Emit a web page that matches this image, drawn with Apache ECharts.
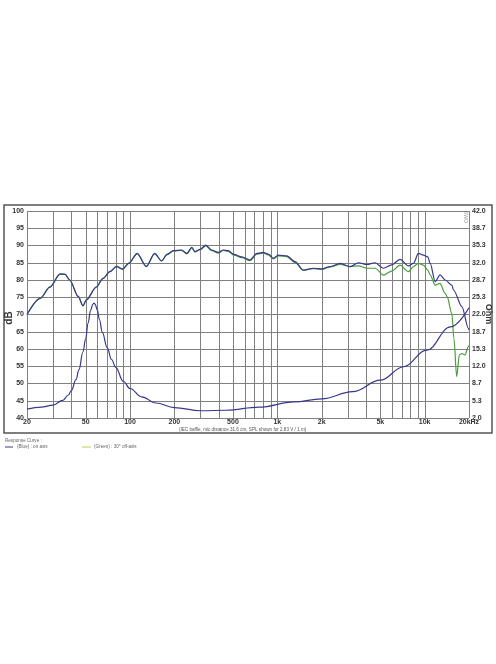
<!DOCTYPE html>
<html><head><meta charset="utf-8">
<script src="https://cdn.jsdelivr.net/npm/echarts@6/dist/echarts.min.js"></script>
<style>html,body{margin:0;padding:0;background:#fff}#c{width:496px;height:664px}</style>
</head><body><div id="c"></div>
<script>
// Frequency grid lines and tick labels
const freqGrid = [20,30,40,50,60,70,80,90,100,200,300,400,500,600,700,800,900,1000,2000,3000,4000,5000,6000,7000,8000,9000,10000,20000];
const freqTicks = [20,50,100,200,500,1000,2000,5000,10000,20000];
const freqTickLabels = ['20','50','100','200','500','1k','2k','5k','10k','20kHz'];

// On-axis SPL (blue), dB
const onFreq = [20,24.6,28.6,33.5,36.2,39,44.5,48,50.6,59,65.5,73.2,81,89,98,112,129,147,164,178,197,224,243,263,276,299,327,359,398,430,465,508,574,653,725,804,869,940,1016,1159,1318,1502,1757,2000,2280,2670,3120,3550,4050,4610,5250,5980,6810,7750,8390,9070,9800,10500,10900,11800,12700,13800,15300,15700,17900,19800,20000];
const onDb   = [70.0,74.7,77.9,81.7,81.7,80.0,75.2,72.5,74.2,77.9,80.4,82.4,83.9,83.1,84.8,87.7,83.9,87.7,85.5,87.4,88.5,88.7,87.7,89.5,88.2,88.9,90.1,88.7,88.0,88.7,88.5,87.4,86.7,85.8,87.7,88.0,87.5,86.3,87.2,87.0,85.3,82.9,83.4,83.2,83.9,84.8,83.9,85.0,84.5,85.0,83.4,84.4,86.0,84.1,84.8,87.7,87.2,86.7,84.8,79.5,81.5,80.0,78.5,77.1,72.3,66.0,65.5];

// 30 deg off-axis SPL (green), dB
const offFreq = [20,24.6,28.6,33.5,36.2,39,44.5,48,50.6,59,65.5,73.2,81,89,98,112,129,147,164,178,197,224,243,263,276,299,327,359,398,430,465,508,574,653,725,804,869,940,1016,1159,1318,1502,1757,2000,2280,2670,3120,3550,4050,4610,5250,5980,6810,7750,8390,9070,9800,10500,10900,11800,12700,13800,14200,15300,15800,16500,17200,17900,18800,19800,20000];
const offDb   = [70.0,74.7,78.0,81.8,81.6,80.0,75.3,72.6,74.3,78.0,80.5,82.5,84.0,83.2,84.9,87.6,84.0,87.6,85.6,87.3,88.4,88.6,87.6,89.3,88.1,88.8,89.9,88.5,87.8,88.6,88.3,87.2,86.5,85.6,87.5,87.8,87.3,86.1,87.0,86.8,85.1,82.8,83.3,83.1,83.8,84.5,83.9,84.1,83.4,83.4,81.4,82.6,84.3,82.4,83.9,84.8,84.3,82.9,81.5,78.5,79.0,76.1,75.2,70.3,63.0,52.0,58.3,58.7,58.3,60.7,61.0];

// Impedance (blue), Ohm
const zFreq = [20,25,30,35,38,40,43,45,48,50,52,54,56,57,58,60,62,65,70,75,80,90,100,120,150,200,300,450,750,1300,2000,3250,5000,7200,10300,15000,20000];
const zOhm  = [3.7,4.1,4.5,5.4,6.4,7.3,9.4,11.3,14.8,17.3,20.4,22.8,24.0,24.2,24.0,22.9,21.0,18.5,15.6,13.3,11.8,9.1,7.7,6.1,4.9,4.0,3.4,3.5,4.1,5.1,5.7,7.1,9.3,11.9,15.1,19.6,23.3];

const zip = (a,b) => a.map((v,i)=>[v,b[i]]);
const BLUE = '#38388f', GREEN = '#4c9c3c', GRID = '#808080', TXT = '#333';
const FONT = 'Liberation Sans, Arial, sans-serif';

const chart = echarts.init(document.getElementById('c'), null, {renderer:'canvas'});
chart.setOption({
  animation:false,
  backgroundColor:'#fff',
  grid:{left:27,right:27,top:211,bottom:246,containLabel:false},
  xAxis:{type:'log',logBase:10,min:20,max:20000,
    axisLine:{show:false},axisTick:{show:false},axisLabel:{show:false},splitLine:{show:false},minorSplitLine:{show:false}},
  yAxis:[
    {type:'value',min:40,max:100,interval:5,position:'left',
      axisLine:{show:false},axisTick:{show:false},
      axisLabel:{color:TXT,fontSize:7,fontWeight:'bold',fontFamily:FONT,margin:3},
      splitLine:{show:true,lineStyle:{color:GRID,width:1}}},
    {type:'value',min:2,max:42,alignTicks:true,position:'right',
      axisLine:{show:false},axisTick:{show:false},
      axisLabel:{color:TXT,fontSize:7,fontWeight:'bold',fontFamily:FONT,margin:3,formatter:v=>v.toFixed(1)},
      splitLine:{show:false}}
  ],
  series:[
    {type:'custom',coordinateSystem:'cartesian2d',xAxisIndex:0,yAxisIndex:0,silent:true,clip:false,z:1,
      data:freqGrid.map(f=>[f,40]),encode:{x:0,y:1},
      renderItem:(p,api)=>{const f=api.value(0);const a=api.coord([f,100]);const b=api.coord([f,40]);
        return {type:'line',shape:{x1:Math.round(a[0])+0.5,y1:a[1],x2:Math.round(b[0])+0.5,y2:b[1]},style:{stroke:GRID,lineWidth:1}};}},
    {type:'custom',coordinateSystem:'cartesian2d',xAxisIndex:0,yAxisIndex:0,silent:true,clip:false,z:3,
      data:freqTicks.map((f,i)=>[f,40,i]),encode:{x:0,y:1},
      renderItem:(p,api)=>{const f=api.value(0);const i=api.value(2);const b=api.coord([f,40]);
        return {type:'text',x:b[0],y:b[1]+1,style:{text:freqTickLabels[i],textAlign:'center',textVerticalAlign:'top',fill:TXT,font:'bold 7px '+FONT}};}},
    {type:'line',name:'off',yAxisIndex:0,data:zip(offFreq,offDb),showSymbol:false,smooth:0.3,smoothMonotone:'x',
      lineStyle:{color:GREEN,width:1.2},z:4},
    {type:'line',name:'on',yAxisIndex:0,data:zip(onFreq,onDb),showSymbol:false,smooth:0.3,smoothMonotone:'x',
      lineStyle:{color:BLUE,width:1.2},z:5},
    {type:'line',name:'imp',yAxisIndex:1,data:zip(zFreq,zOhm),showSymbol:false,smooth:0.4,smoothMonotone:'x',
      lineStyle:{color:BLUE,width:1.2},z:5}
  ],
  graphic:[
    {type:'rect',shape:{x:4,y:205,width:488,height:228},style:{fill:null,stroke:'#555',lineWidth:1.5},z:0,silent:true},
    {type:'text',x:9,y:318,rotation:Math.PI/2,style:{text:'dB',fill:TXT,font:'bold 10px '+FONT,textAlign:'center',textVerticalAlign:'middle'}},
    {type:'text',x:488,y:314,rotation:-Math.PI/2,style:{text:'Ohm',fill:TXT,font:'bold 9px '+FONT,textAlign:'center',textVerticalAlign:'middle'}},
    {type:'text',x:465,y:217,rotation:-Math.PI/2,style:{text:'SWO',fill:'#999',font:'5px '+FONT,textAlign:'center',textVerticalAlign:'middle'}},
    {type:'text',x:179,y:430,style:{text:'(IEC baffle, mic distance 31.6 cm, SPL shown for 2.83 V / 1 m)',fill:'#555',font:'4.6px '+FONT,textVerticalAlign:'middle'}},
    {type:'text',x:5,y:440.5,style:{text:'Response Curve :',fill:'#666',font:'4.6px '+FONT,textVerticalAlign:'middle'}},
    {type:'line',shape:{x1:5,y1:447,x2:13,y2:447},style:{stroke:BLUE,lineWidth:1}},
    {type:'text',x:17,y:447,style:{text:'(Blue) : on axis',fill:'#666',font:'4.6px '+FONT,textVerticalAlign:'middle'}},
    {type:'line',shape:{x1:82,y1:447,x2:91,y2:447},style:{stroke:'#b8d060',lineWidth:1}},
    {type:'text',x:94,y:447,style:{text:'(Green) : 30° off-axis',fill:'#666',font:'4.6px '+FONT,textVerticalAlign:'middle'}}
  ]
});
</script></body></html>
